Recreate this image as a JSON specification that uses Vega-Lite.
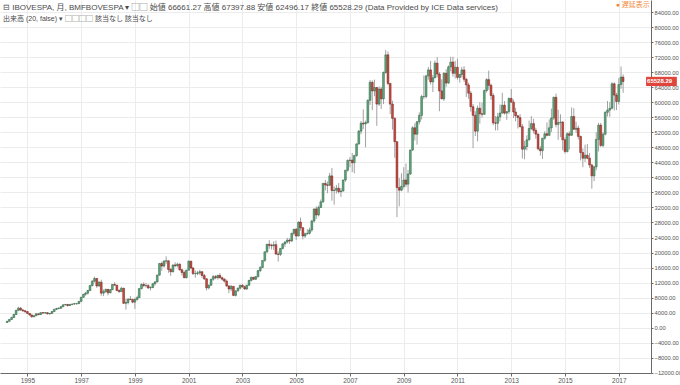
{
"$schema":"https://vega.github.io/schema/vega-lite/v6.json",
"width":651,"height":373,
"autosize":{"type":"none"},
"padding":{"top":0,"left":0,"right":29,"bottom":12},
"background":"#ffffff",
"title":{"text":"⊟ IBOVESPA, 月, BMFBOVESPA ▾ ▢▢  始値 66661.27 高値 67397.88 安値 62496.17 終値 65528.29 (Data Provided by ICE Data services)","subtitle":"出来高 (20, false) ▾ ▢▢▢▢ 該当なし 該当なし","anchor":"start","frame":"group","offset":-22,"font":"Liberation Sans, Noto Sans CJK JP","fontSize":8,"fontWeight":"normal","color":"#4a4a4a","subtitleFont":"Liberation Sans, Noto Sans CJK JP","subtitleFontSize":7,"subtitleColor":"#4a4a4a","subtitlePadding":3,"dx":3},
"config":{"view":{"stroke":null},"font":"Liberation Sans, Noto Sans CJK JP"},
"datasets":{"ohlc":[
{"d":"1994-04-01","o":1400,"h":1800,"l":1300,"c":1700},
{"d":"1994-05-01","o":1700,"h":2300,"l":1600,"c":2200},
{"d":"1994-06-01","o":2200,"h":2900,"l":2100,"c":2700},
{"d":"1994-07-01","o":2700,"h":3700,"l":2600,"c":3500},
{"d":"1994-08-01","o":3500,"h":4800,"l":3400,"c":4600},
{"d":"1994-09-01","o":4600,"h":5600,"l":4400,"c":5200},
{"d":"1994-10-01","o":5200,"h":5500,"l":4500,"c":4700},
{"d":"1994-11-01","o":4700,"h":5000,"l":4200,"c":4500},
{"d":"1994-12-01","o":4500,"h":4700,"l":3900,"c":4300},
{"d":"1995-01-01","o":4300,"h":4400,"l":3600,"c":3800},
{"d":"1995-02-01","o":3800,"h":3900,"l":3200,"c":3400},
{"d":"1995-03-01","o":3400,"h":3500,"l":2700,"c":2900},
{"d":"1995-04-01","o":2900,"h":3300,"l":2800,"c":3200},
{"d":"1995-05-01","o":3200,"h":3900,"l":3100,"c":3700},
{"d":"1995-06-01","o":3700,"h":3800,"l":3300,"c":3500},
{"d":"1995-07-01","o":3500,"h":4100,"l":3400,"c":4000},
{"d":"1995-08-01","o":4000,"h":4200,"l":3700,"c":3900},
{"d":"1995-09-01","o":3900,"h":4100,"l":3700,"c":4000},
{"d":"1995-10-01","o":4000,"h":4050,"l":3500,"c":3700},
{"d":"1995-11-01","o":3700,"h":3900,"l":3400,"c":3800},
{"d":"1995-12-01","o":3800,"h":4400,"l":3700,"c":4300},
{"d":"1996-01-01","o":4300,"h":5000,"l":4200,"c":4900},
{"d":"1996-02-01","o":4900,"h":5300,"l":4700,"c":5100},
{"d":"1996-03-01","o":5100,"h":5400,"l":4900,"c":5200},
{"d":"1996-04-01","o":5200,"h":5700,"l":5000,"c":5600},
{"d":"1996-05-01","o":5600,"h":6200,"l":5500,"c":6100},
{"d":"1996-06-01","o":6100,"h":6300,"l":5900,"c":6200},
{"d":"1996-07-01","o":6200,"h":6300,"l":5600,"c":5900},
{"d":"1996-08-01","o":5900,"h":6300,"l":5800,"c":6200},
{"d":"1996-09-01","o":6200,"h":6400,"l":6000,"c":6300},
{"d":"1996-10-01","o":6300,"h":6600,"l":6100,"c":6400},
{"d":"1996-11-01","o":6400,"h":6600,"l":6100,"c":6400},
{"d":"1996-12-01","o":6400,"h":7100,"l":6300,"c":7000},
{"d":"1997-01-01","o":7000,"h":8200,"l":6900,"c":8100},
{"d":"1997-02-01","o":8100,"h":9000,"l":7900,"c":8900},
{"d":"1997-03-01","o":8900,"h":9500,"l":8500,"c":9200},
{"d":"1997-04-01","o":9200,"h":10000,"l":8800,"c":9900},
{"d":"1997-05-01","o":9900,"h":11400,"l":9800,"c":11200},
{"d":"1997-06-01","o":11200,"h":12600,"l":11000,"c":12400},
{"d":"1997-07-01","o":12400,"h":13600,"l":12000,"c":13100},
{"d":"1997-08-01","o":13100,"h":13200,"l":10600,"c":11100},
{"d":"1997-09-01","o":11100,"h":12400,"l":10900,"c":12100},
{"d":"1997-10-01","o":12100,"h":12800,"l":8500,"c":9200},
{"d":"1997-11-01","o":9200,"h":10200,"l":8400,"c":9600},
{"d":"1997-12-01","o":9600,"h":10400,"l":9300,"c":10200},
{"d":"1998-01-01","o":10200,"h":10300,"l":8600,"c":9300},
{"d":"1998-02-01","o":9300,"h":10300,"l":9100,"c":10100},
{"d":"1998-03-01","o":10100,"h":11600,"l":10000,"c":11500},
{"d":"1998-04-01","o":11500,"h":12100,"l":11200,"c":11300},
{"d":"1998-05-01","o":11300,"h":11400,"l":9700,"c":9900},
{"d":"1998-06-01","o":9900,"h":10200,"l":9300,"c":9600},
{"d":"1998-07-01","o":9600,"h":10900,"l":9500,"c":10500},
{"d":"1998-08-01","o":10500,"h":10600,"l":6300,"c":6500},
{"d":"1998-09-01","o":6500,"h":7700,"l":4800,"c":6700},
{"d":"1998-10-01","o":6700,"h":7800,"l":6200,"c":7600},
{"d":"1998-11-01","o":7600,"h":8400,"l":7400,"c":7500},
{"d":"1998-12-01","o":7500,"h":7700,"l":6500,"c":6800},
{"d":"1999-01-01","o":6800,"h":8000,"l":5000,"c":7500},
{"d":"1999-02-01","o":7500,"h":8500,"l":7200,"c":8000},
{"d":"1999-03-01","o":8000,"h":10600,"l":7900,"c":10400},
{"d":"1999-04-01","o":10400,"h":11800,"l":10200,"c":11500},
{"d":"1999-05-01","o":11500,"h":12100,"l":10800,"c":11200},
{"d":"1999-06-01","o":11200,"h":11900,"l":10700,"c":11200},
{"d":"1999-07-01","o":11200,"h":11600,"l":10300,"c":10600},
{"d":"1999-08-01","o":10600,"h":11000,"l":9900,"c":10700},
{"d":"1999-09-01","o":10700,"h":11900,"l":10500,"c":11700},
{"d":"1999-10-01","o":11700,"h":12300,"l":11200,"c":12200},
{"d":"1999-11-01","o":12200,"h":14100,"l":12000,"c":14000},
{"d":"1999-12-01","o":14000,"h":17100,"l":13800,"c":17100},
{"d":"2000-01-01","o":17100,"h":17600,"l":15100,"c":16400},
{"d":"2000-02-01","o":16400,"h":18000,"l":16000,"c":17700},
{"d":"2000-03-01","o":17700,"h":19000,"l":17000,"c":17800},
{"d":"2000-04-01","o":17800,"h":17900,"l":14600,"c":15500},
{"d":"2000-05-01","o":15500,"h":15800,"l":13800,"c":14900},
{"d":"2000-06-01","o":14900,"h":16800,"l":14700,"c":16700},
{"d":"2000-07-01","o":16700,"h":17400,"l":16100,"c":16500},
{"d":"2000-08-01","o":16500,"h":17300,"l":16000,"c":16900},
{"d":"2000-09-01","o":16900,"h":17100,"l":15200,"c":15400},
{"d":"2000-10-01","o":15400,"h":15700,"l":13900,"c":14700},
{"d":"2000-11-01","o":14700,"h":15200,"l":13200,"c":13300},
{"d":"2000-12-01","o":13300,"h":15400,"l":13100,"c":15300},
{"d":"2001-01-01","o":15300,"h":17900,"l":15200,"c":17700},
{"d":"2001-02-01","o":17700,"h":17800,"l":15600,"c":15900},
{"d":"2001-03-01","o":15900,"h":16100,"l":14000,"c":14400},
{"d":"2001-04-01","o":14400,"h":15200,"l":13300,"c":14400},
{"d":"2001-05-01","o":14400,"h":15100,"l":14000,"c":14600},
{"d":"2001-06-01","o":14600,"h":15400,"l":14000,"c":14900},
{"d":"2001-07-01","o":14900,"h":15000,"l":13300,"c":13900},
{"d":"2001-08-01","o":13900,"h":14300,"l":12700,"c":13000},
{"d":"2001-09-01","o":13000,"h":13200,"l":9900,"c":10600},
{"d":"2001-10-01","o":10600,"h":11500,"l":10200,"c":11300},
{"d":"2001-11-01","o":11300,"h":13000,"l":11100,"c":12900},
{"d":"2001-12-01","o":12900,"h":14000,"l":12500,"c":13600},
{"d":"2002-01-01","o":13600,"h":14000,"l":12900,"c":13300},
{"d":"2002-02-01","o":13300,"h":14100,"l":12800,"c":13900},
{"d":"2002-03-01","o":13900,"h":14500,"l":13100,"c":13300},
{"d":"2002-04-01","o":13300,"h":13600,"l":12500,"c":12900},
{"d":"2002-05-01","o":12900,"h":13200,"l":12000,"c":12400},
{"d":"2002-06-01","o":12400,"h":12800,"l":10900,"c":11100},
{"d":"2002-07-01","o":11100,"h":11300,"l":9200,"c":10300},
{"d":"2002-08-01","o":10300,"h":11400,"l":9700,"c":11000},
{"d":"2002-09-01","o":11000,"h":11100,"l":8400,"c":8600},
{"d":"2002-10-01","o":8600,"h":9900,"l":8300,"c":9800},
{"d":"2002-11-01","o":9800,"h":10700,"l":9600,"c":10500},
{"d":"2002-12-01","o":10500,"h":11400,"l":10200,"c":11300},
{"d":"2003-01-01","o":11300,"h":11600,"l":10600,"c":10900},
{"d":"2003-02-01","o":10900,"h":11200,"l":10100,"c":10300},
{"d":"2003-03-01","o":10300,"h":11400,"l":10100,"c":11300},
{"d":"2003-04-01","o":11300,"h":12700,"l":11200,"c":12600},
{"d":"2003-05-01","o":12600,"h":13600,"l":12300,"c":13400},
{"d":"2003-06-01","o":13400,"h":13500,"l":12700,"c":12900},
{"d":"2003-07-01","o":12900,"h":13700,"l":12700,"c":13600},
{"d":"2003-08-01","o":13600,"h":15200,"l":13300,"c":15200},
{"d":"2003-09-01","o":15200,"h":16400,"l":14800,"c":16000},
{"d":"2003-10-01","o":16000,"h":17900,"l":15900,"c":17900},
{"d":"2003-11-01","o":17900,"h":20200,"l":17500,"c":20200},
{"d":"2003-12-01","o":20200,"h":22300,"l":19900,"c":22200},
{"d":"2004-01-01","o":22200,"h":23300,"l":21000,"c":21900},
{"d":"2004-02-01","o":21900,"h":22400,"l":20800,"c":21800},
{"d":"2004-03-01","o":21800,"h":23000,"l":20700,"c":22100},
{"d":"2004-04-01","o":22100,"h":23200,"l":19400,"c":19600},
{"d":"2004-05-01","o":19600,"h":20300,"l":17600,"c":19500},
{"d":"2004-06-01","o":19500,"h":21200,"l":19100,"c":21100},
{"d":"2004-07-01","o":21100,"h":22500,"l":20800,"c":22300},
{"d":"2004-08-01","o":22300,"h":23000,"l":21500,"c":22800},
{"d":"2004-09-01","o":22800,"h":23900,"l":22400,"c":23300},
{"d":"2004-10-01","o":23300,"h":23800,"l":22300,"c":23100},
{"d":"2004-11-01","o":23100,"h":25300,"l":22800,"c":25100},
{"d":"2004-12-01","o":25100,"h":26300,"l":24600,"c":26200},
{"d":"2005-01-01","o":26200,"h":26500,"l":23300,"c":24400},
{"d":"2005-02-01","o":24400,"h":28300,"l":24300,"c":28100},
{"d":"2005-03-01","o":28100,"h":29300,"l":25800,"c":26600},
{"d":"2005-04-01","o":26600,"h":26800,"l":23500,"c":24400},
{"d":"2005-05-01","o":24400,"h":25300,"l":23900,"c":25000},
{"d":"2005-06-01","o":25000,"h":26200,"l":24700,"c":25100},
{"d":"2005-07-01","o":25100,"h":26600,"l":24800,"c":26000},
{"d":"2005-08-01","o":26000,"h":28700,"l":25500,"c":28400},
{"d":"2005-09-01","o":28400,"h":31700,"l":28000,"c":31600},
{"d":"2005-10-01","o":31600,"h":32300,"l":28900,"c":30000},
{"d":"2005-11-01","o":30000,"h":32500,"l":29600,"c":32000},
{"d":"2005-12-01","o":32000,"h":34100,"l":31900,"c":33500},
{"d":"2006-01-01","o":33500,"h":38500,"l":33200,"c":38400},
{"d":"2006-02-01","o":38400,"h":39300,"l":36500,"c":38000},
{"d":"2006-03-01","o":38000,"h":38900,"l":35800,"c":37900},
{"d":"2006-04-01","o":37900,"h":41200,"l":37700,"c":40400},
{"d":"2006-05-01","o":40400,"h":42500,"l":33800,"c":36500},
{"d":"2006-06-01","o":36500,"h":37600,"l":32700,"c":36600},
{"d":"2006-07-01","o":36600,"h":38000,"l":35700,"c":37100},
{"d":"2006-08-01","o":37100,"h":38500,"l":35700,"c":36200},
{"d":"2006-09-01","o":36200,"h":37200,"l":34800,"c":36400},
{"d":"2006-10-01","o":36400,"h":39400,"l":36200,"c":39300},
{"d":"2006-11-01","o":39300,"h":42000,"l":38800,"c":41900},
{"d":"2006-12-01","o":41900,"h":44800,"l":41500,"c":44500},
{"d":"2007-01-01","o":44500,"h":45400,"l":42700,"c":44600},
{"d":"2007-02-01","o":44600,"h":46500,"l":41400,"c":43900},
{"d":"2007-03-01","o":43900,"h":46000,"l":41100,"c":45800},
{"d":"2007-04-01","o":45800,"h":49000,"l":45500,"c":48900},
{"d":"2007-05-01","o":48900,"h":52600,"l":48700,"c":52300},
{"d":"2007-06-01","o":52300,"h":55000,"l":51500,"c":54400},
{"d":"2007-07-01","o":54400,"h":58100,"l":52800,"c":54200},
{"d":"2007-08-01","o":54200,"h":55100,"l":48000,"c":54600},
{"d":"2007-09-01","o":54600,"h":60800,"l":54300,"c":60500},
{"d":"2007-10-01","o":60500,"h":65900,"l":59300,"c":65300},
{"d":"2007-11-01","o":65300,"h":65800,"l":57900,"c":63000},
{"d":"2007-12-01","o":63000,"h":66000,"l":61600,"c":63900},
{"d":"2008-01-01","o":63900,"h":64000,"l":53700,"c":59500},
{"d":"2008-02-01","o":59500,"h":64200,"l":59000,"c":63500},
{"d":"2008-03-01","o":63500,"h":64100,"l":58200,"c":60900},
{"d":"2008-04-01","o":60900,"h":68200,"l":59500,"c":67900},
{"d":"2008-05-01","o":67900,"h":73900,"l":67600,"c":72600},
{"d":"2008-06-01","o":72600,"h":73500,"l":64500,"c":65000},
{"d":"2008-07-01","o":65000,"h":65100,"l":56800,"c":59500},
{"d":"2008-08-01","o":59500,"h":60400,"l":52700,"c":55700},
{"d":"2008-09-01","o":55700,"h":56000,"l":45200,"c":49500},
{"d":"2008-10-01","o":49500,"h":49600,"l":29400,"c":37300},
{"d":"2008-11-01","o":37300,"h":39800,"l":32300,"c":36600},
{"d":"2008-12-01","o":36600,"h":41100,"l":36300,"c":37600},
{"d":"2009-01-01","o":37600,"h":42700,"l":37000,"c":39300},
{"d":"2009-02-01","o":39300,"h":43700,"l":37400,"c":38200},
{"d":"2009-03-01","o":38200,"h":42000,"l":36000,"c":40900},
{"d":"2009-04-01","o":40900,"h":47300,"l":40600,"c":47300},
{"d":"2009-05-01","o":47300,"h":53600,"l":47000,"c":53200},
{"d":"2009-06-01","o":53200,"h":54400,"l":49800,"c":51500},
{"d":"2009-07-01","o":51500,"h":55000,"l":48700,"c":54800},
{"d":"2009-08-01","o":54800,"h":57300,"l":54100,"c":56500},
{"d":"2009-09-01","o":56500,"h":62000,"l":55400,"c":61500},
{"d":"2009-10-01","o":61500,"h":67100,"l":60800,"c":61500},
{"d":"2009-11-01","o":61500,"h":67300,"l":61000,"c":67000},
{"d":"2009-12-01","o":67000,"h":69400,"l":66000,"c":68600},
{"d":"2010-01-01","o":68600,"h":71000,"l":64700,"c":65400},
{"d":"2010-02-01","o":65400,"h":67300,"l":62700,"c":66500},
{"d":"2010-03-01","o":66500,"h":71100,"l":66400,"c":70400},
{"d":"2010-04-01","o":70400,"h":72000,"l":66600,"c":67500},
{"d":"2010-05-01","o":67500,"h":68000,"l":57600,"c":63000},
{"d":"2010-06-01","o":63000,"h":66100,"l":60800,"c":60900},
{"d":"2010-07-01","o":60900,"h":68000,"l":60300,"c":67700},
{"d":"2010-08-01","o":67700,"h":68800,"l":64100,"c":65100},
{"d":"2010-09-01","o":65100,"h":69800,"l":64900,"c":69400},
{"d":"2010-10-01","o":69400,"h":72100,"l":68200,"c":70700},
{"d":"2010-11-01","o":70700,"h":72100,"l":66800,"c":67700},
{"d":"2010-12-01","o":67700,"h":71000,"l":66300,"c":69300},
{"d":"2011-01-01","o":69300,"h":71600,"l":66000,"c":66600},
{"d":"2011-02-01","o":66600,"h":67500,"l":65200,"c":67400},
{"d":"2011-03-01","o":67400,"h":69400,"l":66600,"c":68600},
{"d":"2011-04-01","o":68600,"h":69600,"l":65400,"c":66100},
{"d":"2011-05-01","o":66100,"h":66500,"l":61400,"c":64600},
{"d":"2011-06-01","o":64600,"h":65200,"l":60900,"c":62400},
{"d":"2011-07-01","o":62400,"h":63000,"l":57500,"c":58800},
{"d":"2011-08-01","o":58800,"h":59500,"l":47800,"c":56500},
{"d":"2011-09-01","o":56500,"h":57600,"l":51000,"c":52300},
{"d":"2011-10-01","o":52300,"h":59100,"l":49600,"c":58400},
{"d":"2011-11-01","o":58400,"h":60000,"l":54300,"c":56900},
{"d":"2011-12-01","o":56900,"h":59900,"l":55900,"c":56800},
{"d":"2012-01-01","o":56800,"h":63400,"l":56600,"c":63100},
{"d":"2012-02-01","o":63100,"h":66400,"l":62600,"c":66000},
{"d":"2012-03-01","o":66000,"h":68400,"l":63300,"c":64500},
{"d":"2012-04-01","o":64500,"h":65000,"l":60700,"c":61800},
{"d":"2012-05-01","o":61800,"h":62400,"l":53900,"c":54500},
{"d":"2012-06-01","o":54500,"h":56300,"l":52500,"c":54400},
{"d":"2012-07-01","o":54400,"h":57200,"l":52500,"c":56100},
{"d":"2012-08-01","o":56100,"h":59400,"l":54900,"c":57100},
{"d":"2012-09-01","o":57100,"h":62500,"l":57000,"c":59200},
{"d":"2012-10-01","o":59200,"h":60300,"l":56700,"c":57100},
{"d":"2012-11-01","o":57100,"h":57600,"l":55300,"c":57500},
{"d":"2012-12-01","o":57500,"h":61300,"l":56900,"c":61000},
{"d":"2013-01-01","o":61000,"h":63500,"l":59900,"c":60000},
{"d":"2013-02-01","o":60000,"h":60700,"l":55800,"c":57400},
{"d":"2013-03-01","o":57400,"h":58500,"l":54900,"c":56400},
{"d":"2013-04-01","o":56400,"h":56500,"l":53000,"c":55900},
{"d":"2013-05-01","o":55900,"h":56800,"l":53300,"c":53500},
{"d":"2013-06-01","o":53500,"h":54200,"l":45000,"c":47500},
{"d":"2013-07-01","o":47500,"h":49700,"l":44800,"c":48200},
{"d":"2013-08-01","o":48200,"h":51200,"l":47200,"c":50000},
{"d":"2013-09-01","o":50000,"h":55100,"l":49800,"c":53000},
{"d":"2013-10-01","o":53000,"h":56300,"l":52600,"c":54300},
{"d":"2013-11-01","o":54300,"h":55600,"l":51700,"c":52500},
{"d":"2013-12-01","o":52500,"h":53200,"l":50300,"c":51500},
{"d":"2014-01-01","o":51500,"h":51700,"l":47200,"c":47600},
{"d":"2014-02-01","o":47600,"h":48300,"l":45800,"c":47100},
{"d":"2014-03-01","o":47100,"h":50500,"l":44900,"c":50400},
{"d":"2014-04-01","o":50400,"h":52300,"l":50000,"c":51600},
{"d":"2014-05-01","o":51600,"h":54600,"l":50900,"c":51200},
{"d":"2014-06-01","o":51200,"h":55400,"l":51000,"c":53200},
{"d":"2014-07-01","o":53200,"h":58300,"l":52100,"c":55800},
{"d":"2014-08-01","o":55800,"h":61500,"l":55300,"c":61300},
{"d":"2014-09-01","o":61300,"h":62300,"l":53300,"c":54100},
{"d":"2014-10-01","o":54100,"h":58000,"l":50000,"c":54600},
{"d":"2014-11-01","o":54600,"h":56800,"l":50700,"c":54700},
{"d":"2014-12-01","o":54700,"h":55000,"l":47200,"c":50000},
{"d":"2015-01-01","o":50000,"h":50700,"l":46300,"c":46900},
{"d":"2015-02-01","o":46900,"h":52000,"l":46600,"c":51600},
{"d":"2015-03-01","o":51600,"h":52300,"l":47400,"c":51200},
{"d":"2015-04-01","o":51200,"h":58600,"l":51100,"c":56200},
{"d":"2015-05-01","o":56200,"h":58400,"l":52600,"c":52800},
{"d":"2015-06-01","o":52800,"h":54800,"l":51800,"c":53100},
{"d":"2015-07-01","o":53100,"h":53800,"l":50100,"c":50900},
{"d":"2015-08-01","o":50900,"h":51100,"l":44500,"c":46600},
{"d":"2015-09-01","o":46600,"h":47700,"l":42700,"c":45100},
{"d":"2015-10-01","o":45100,"h":48700,"l":44100,"c":45900},
{"d":"2015-11-01","o":45900,"h":48900,"l":44800,"c":45100},
{"d":"2015-12-01","o":45100,"h":46500,"l":42500,"c":43300},
{"d":"2016-01-01","o":43300,"h":43600,"l":37000,"c":40400},
{"d":"2016-02-01","o":40400,"h":43000,"l":39000,"c":42800},
{"d":"2016-03-01","o":42800,"h":52000,"l":41900,"c":50100},
{"d":"2016-04-01","o":50100,"h":54500,"l":46900,"c":53900},
{"d":"2016-05-01","o":53900,"h":54500,"l":48100,"c":48500},
{"d":"2016-06-01","o":48500,"h":52000,"l":48000,"c":51500},
{"d":"2016-07-01","o":51500,"h":57600,"l":51200,"c":57300},
{"d":"2016-08-01","o":57300,"h":60300,"l":56200,"c":57900},
{"d":"2016-09-01","o":57900,"h":60000,"l":56100,"c":58400},
{"d":"2016-10-01","o":58400,"h":65300,"l":58100,"c":64900},
{"d":"2016-11-01","o":64900,"h":65300,"l":57800,"c":61900},
{"d":"2016-12-01","o":61900,"h":62500,"l":57900,"c":60200},
{"d":"2017-01-01","o":60200,"h":66400,"l":59400,"c":64700},
{"d":"2017-02-01","o":64700,"h":69500,"l":63600,"c":66700},
{"d":"2017-03-01","o":66661.27,"h":67397.88,"l":62496.17,"c":65528.29}
],
"last":[{"d0":"2018-01-07","d1":"2019-03-01","dm":"2018-07-10","lo":64300,"hi":66760,"p":65528.29,"lbl":"65528.29"}],
"badge":[{"d":"2016-11-20","v":85900,"t":"● 遅延表示"}]
},
"layer":[
{"data":{"name":"ohlc"},
 "mark":{"type":"rule","color":"#8a8a8c","strokeWidth":0.8},
 "encoding":{
  "x":{"field":"d","type":"temporal",
   "scale":{"type":"utc","domain":[{"year":1994,"month":3,"date":3,"utc":true},{"year":2018,"month":1,"date":6,"utc":true}]},
   "axis":{"orient":"bottom","format":"%Y","title":null,"tickCount":40,
     "values":[{"year":1995,"month":1,"date":1,"utc":true},{"year":1997,"month":1,"date":1,"utc":true},{"year":1999,"month":1,"date":1,"utc":true},{"year":2001,"month":1,"date":1,"utc":true},{"year":2003,"month":1,"date":1,"utc":true},{"year":2005,"month":1,"date":1,"utc":true},{"year":2007,"month":1,"date":1,"utc":true},{"year":2009,"month":1,"date":1,"utc":true},{"year":2011,"month":1,"date":1,"utc":true},{"year":2013,"month":1,"date":1,"utc":true},{"year":2015,"month":1,"date":1,"utc":true},{"year":2017,"month":1,"date":1,"utc":true}],
     "grid":true,"gridColor":"#ececec","gridWidth":1,"domainColor":"#6a6a6a","domainWidth":1,"tickColor":"#6a6a6a","tickSize":3,"labelFontSize":6.5,"labelColor":"#555555","labelPadding":1,"labelFlush":false,"labelOverlap":false}},
  "y":{"field":"l","type":"quantitative",
   "scale":{"domain":[-12054,87200],"nice":false,"zero":false},
   "axis":{"orient":"right","title":null,"format":".2f","tickCount":60,
     "values":[-12000,-8000,-4000,0,4000,8000,12000,16000,20000,24000,28000,32000,36000,40000,44000,48000,52000,56000,60000,64000,68000,72000,76000,80000,84000],
     "grid":true,"gridColor":"#ececec","gridWidth":1,"domainColor":"#6a6a6a","domainWidth":1,"tickColor":"#6a6a6a","tickSize":2,"labelFontSize":5.8,"labelColor":"#555555","labelPadding":1,"labelFlush":false,"labelOverlap":false,"labelBound":false}},
  "y2":{"field":"h"}
 }},
{"data":{"name":"ohlc"},
 "mark":{"type":"bar","size":1.8,"strokeWidth":0.5},
 "encoding":{
  "x":{"field":"d","type":"temporal"},
  "y":{"field":"o","type":"quantitative"},
  "y2":{"field":"c"},
  "fill":{"condition":{"test":"datum.c >= datum.o","value":"#5fa97e"},"value":"#d2493f"},
  "stroke":{"condition":{"test":"datum.c >= datum.o","value":"#2c5e40"},"value":"#6a1f18"}
 }},
{"mark":{"type":"rule","color":"#e0554c","strokeDash":[2,2],"strokeWidth":0.8},
 "encoding":{"y":{"datum":65528.29}}},
{"data":{"name":"last"},
 "mark":{"type":"rect","color":"#e0453b","clip":false},
 "encoding":{"x":{"field":"d0","type":"temporal"},"x2":{"field":"d1"},"y":{"field":"lo","type":"quantitative"},"y2":{"field":"hi"}}},
{"data":{"name":"last"},
 "mark":{"type":"text","color":"#ffffff","fontSize":6,"fontWeight":"bold","align":"center","baseline":"middle","clip":false},
 "encoding":{"x":{"field":"dm","type":"temporal"},"y":{"field":"p","type":"quantitative"},"text":{"field":"lbl"}}},
{"data":{"name":"badge"},
 "mark":{"type":"text","color":"#f08a3c","fontSize":7,"align":"left","baseline":"middle"},
 "encoding":{"x":{"field":"d","type":"temporal"},"y":{"field":"v","type":"quantitative"},"text":{"field":"t"}}}
]
}
